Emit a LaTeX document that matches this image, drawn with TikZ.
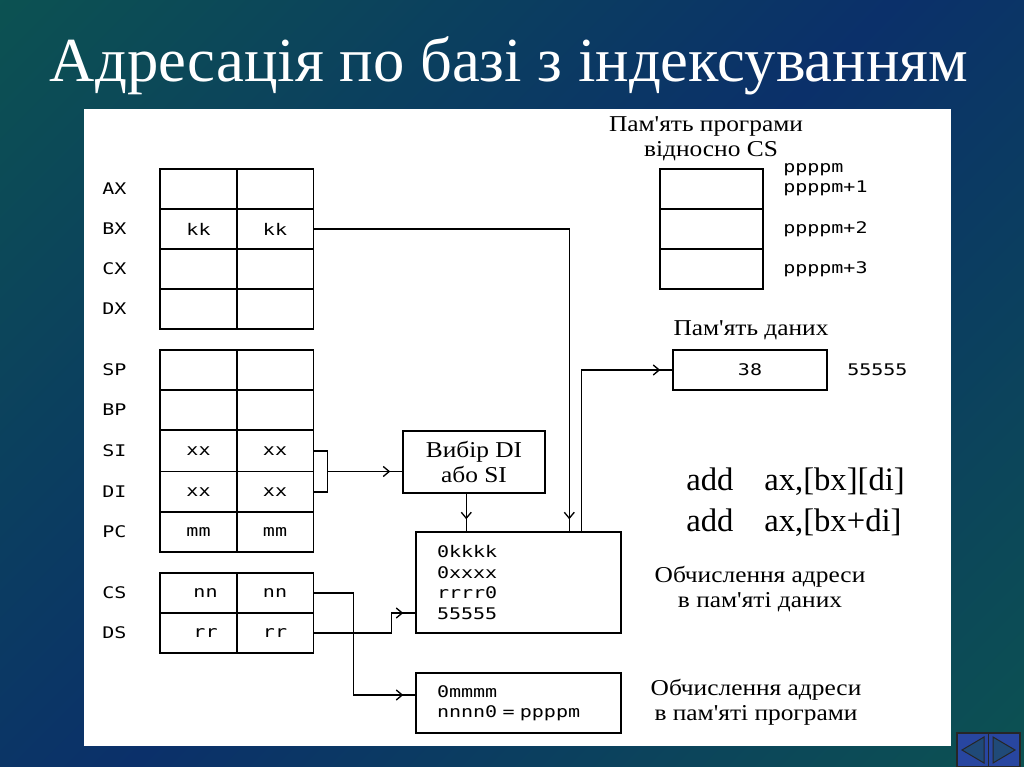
\documentclass[tikz,border=0pt]{standalone}
\usepackage{fontspec}
\setmainfont{Liberation Serif}
\newfontfamily\pix[FakeStretch=1.25]{DejaVu Sans Mono}
\newfontfamily\bser[FakeStretch=1.12]{Liberation Serif}
\usetikzlibrary{arrows.meta,calc,decorations.markings}
\definecolor{bgteal}{RGB}{12,84,80}
\definecolor{bgnavy}{RGB}{11,48,106}
\definecolor{navblue}{RGB}{40,70,160}
\definecolor{navtri}{RGB}{32,74,120}
\pgfdeclarehorizontalshading{diagbg}{100bp}{color(0bp)=(bgteal); color(12bp)=(bgteal); color(50bp)=(bgnavy); color(88bp)=(bgteal); color(100bp)=(bgteal)}
\tikzset{
  pixf/.style={font=\pix\fontsize{12}{14}\selectfont},
  serf/.style={font=\bser\fontsize{17}{20}\selectfont},
  cell/.style={draw, line width=1.1pt, minimum width=57.75pt, minimum height=30pt, inner sep=0pt, pixf},
  memcell/.style={draw, line width=1.1pt, minimum width=77.25pt, minimum height=30pt, inner sep=0pt},
  reglbl/.style={anchor=west, inner sep=0pt, pixf},
  addrlbl/.style={anchor=west, inner sep=0pt, pixf},
  box/.style={draw, line width=1.1pt, inner sep=0pt},
  conn/.style={line width=1.1pt},
  arr/.style={conn, postaction={decorate}, decoration={markings, mark=at position -9pt with {\arrow{Straight Barb[length=4.5pt,width=7.5pt,line width=1pt]}}}},
  asmf/.style={font=\fontsize{24.5}{28}\selectfont, inner sep=0pt, anchor=base west}
}
\begin{document}
\begin{tikzpicture}[x=0.75pt,y=-0.75pt]
\useasboundingbox (0,0) rectangle (1024,767);
% background
\shade[shading=diagbg, shading angle=-45] (0,0) rectangle (1024,767);
\fill[white] (84,109) rectangle (951,746);
% title
\node[text=white, font=\fontsize{47}{54}\selectfont, anchor=base, inner sep=0pt] (title) at (509,81) {Адресація по базі з індексуванням};
% register labels
\foreach \n/\y in {AX/189,BX/229,CX/269,DX/309,SP/370,BP/410,SI/451,DI/492,PC/532,CS/593,DS/633}
  \node[reglbl] (l\n) at (102,\y) {\n};
% register cells
\node[cell] (ax1) at (198.5,189) {};
\node[cell] (ax2) at (275,189) {};
\node[cell] (bx1) at (198.5,229) {kk};
\node[cell] (bx2) at (275,229) {kk};
\node[cell] (cx1) at (198.5,269) {};
\node[cell] (cx2) at (275,269) {};
\node[cell] (dx1) at (198.5,309) {};
\node[cell] (dx2) at (275,309) {};
\node[cell] (sp1) at (198.5,370) {};
\node[cell] (sp2) at (275,370) {};
\node[cell] (bp1) at (198.5,410) {};
\node[cell] (bp2) at (275,410) {};
\node[cell, minimum height=30.75pt] (si1) at (198.5,451) {xx};
\node[cell, minimum height=30.75pt] (si2) at (275,451) {xx};
\node[cell, minimum height=30.75pt] (di1) at (198.5,492) {xx};
\node[cell, minimum height=30.75pt] (di2) at (275,492) {xx};
\node[cell] (pc1) at (198.5,532) {mm};
\node[cell] (pc2) at (275,532) {mm};
\node[cell] (cs1) at (198.5,593) {\hspace*{10.5pt}nn};
\node[cell] (cs2) at (275,593) {nn};
\node[cell] (ds1) at (198.5,633) {\hspace*{10.5pt}rr};
\node[cell] (ds2) at (275,633) {rr};
% program memory
\node[serf, inner sep=0pt] (pmt1) at (706,126) {Пам'ять програми};
\node[serf, inner sep=0pt] (pmt2) at (711,151) {відносно CS};
\node[memcell] (pm1) at (711.5,189) {};
\node[memcell] (pm2) at (711.5,229) {};
\node[memcell] (pm3) at (711.5,269) {};
\node[addrlbl] (pa0) at (783,170) {ppppm};
\node[addrlbl] (pa1) at (783,188) {ppppm+1};
\node[addrlbl] (pa2) at (783,229) {ppppm+2};
\node[addrlbl] (pa3) at (783,269) {ppppm+3};
% data memory
\node[serf, inner sep=0pt] (dmt) at (751,330) {Пам'ять даних};
\node[box, minimum width=115.5pt, minimum height=30pt, pixf] (dm) at (750,370) {38};
\node[addrlbl] (dma) at (847,370) {55555};
% selector
\node[box, minimum width=106.5pt, minimum height=46.5pt, serf, align=center] (sel) at (474,462) {Вибір DI\\[-1pt]або SI};
% calc boxes
\node[box, minimum width=153.75pt, minimum height=75.75pt, align=left, text width=122.25pt, inner xsep=15.75pt, font=\pix\fontsize{12}{15.5}\selectfont] (calc) at (518.5,582.5) {0kkkk\\0xxxx\\rrrr0\\55555};
\node[box, minimum width=153.75pt, minimum height=45pt, align=left, text width=122.25pt, inner xsep=15.75pt, font=\pix\fontsize{12}{15}\selectfont] (prog) at (518.5,703) {0mmmm\\nnnn0 = ppppm};
% asm text
\node[asmf] (add1) at (686,490) {add};
\node[asmf] (op1) at (764,490) {ax,[bx][di]};
\node[asmf] (add2) at (686,531) {add};
\node[asmf] (op2) at (764,531) {ax,[bx+di]};
% descriptions
\node[serf, align=center, inner sep=0pt] (dsc1) at (760,589) {Обчислення адреси\\[-1pt]в пам'яті даних};
\node[serf, align=center, inner sep=0pt] (dsc2) at (756,702) {Обчислення адреси\\[-1pt]в пам'яті програми};
% connectors
\draw[arr] (bx2.east) -| ($(calc.north west)+(154,0)$);
\draw[arr] ($(calc.north west)+(166,0)$) |- (dm.west);
\coordinate (br) at ($(si2.east)!0.5!(di2.east)+(13,0)$);
\draw[conn] (si2.east) -- ++(13,0) |- (di2.east);
\draw[arr] (br) -- (br -| sel.west);
\draw[arr] ($(sel.south west)+(64,0)$) -- ($(calc.north west)+(51,0)$);
\draw[arr] (cs2.east) -- ++(39,0) |- ($(prog.west)+(0,-8)$);
\draw[arr] (ds2.east) -- ++(77,0) |- ($(calc.west)+(0,30.5)$);
% navigation buttons
\node[draw=black!85, fill=navblue, minimum width=47.25pt, minimum height=25.5pt, inner sep=0pt, line width=0.9pt] (nav) at (988.5,750) {};
\draw[black!85, line width=0.9pt] (nav.north) -- (nav.south);
\filldraw[fill=navtri, draw=black!85, line width=0.75pt] (962,750) -- (984,737) -- (984,763) -- cycle;
\filldraw[fill=navtri, draw=black!85, line width=0.75pt] (1015,750) -- (993,737) -- (993,763) -- cycle;
\end{tikzpicture}
\end{document}
